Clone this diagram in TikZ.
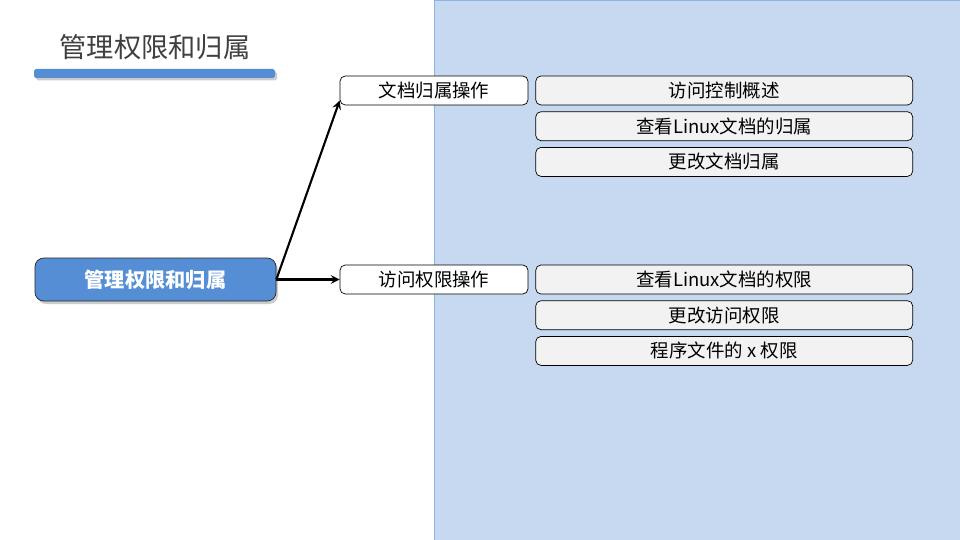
\documentclass[tikz,border=0pt]{standalone}
\usepackage{fontspec}
\setmainfont{Noto Sans CJK SC}
\usepackage{tikz}
\usetikzlibrary{positioning,shadows}

\definecolor{panelblue}{RGB}{198,217,240}
\definecolor{paneledge}{RGB}{142,180,227}
\definecolor{mainblue}{RGB}{85,142,213}
\definecolor{itemgray}{RGB}{242,242,242}
\definecolor{titlegray}{RGB}{64,64,64}

\tikzset{
    opbox/.style={draw=black, fill=white, rounded corners=3pt, minimum width=3.76cm, minimum height=0.58cm, inner sep=0pt, font=\fontsize{10.5}{12}\selectfont},
    itembox/.style={draw=black, fill=itemgray, rounded corners=3pt, minimum width=7.54cm, minimum height=0.58cm, inner sep=0pt, font=\fontsize{10.5}{12}\selectfont},
    link/.style={line width=1.2pt, -stealth}
}

\begin{document}
\begin{tikzpicture}

    % Fondo
    \useasboundingbox (0,0) rectangle (19.2,-10.8);
    \fill[white] (0,0) rectangle (19.2,-10.8);
    \draw[paneledge, fill=panelblue] (8.68,0) rectangle (19.2,-10.8);

    % Titulo
    \node[text=titlegray, font=\fontsize{15.5}{18}\selectfont] (title) at (3.1,-0.94) {管理权限和归属};
    \fill[mainblue, rounded corners=1pt, drop shadow={opacity=0.4, shadow xshift=0.04cm, shadow yshift=-0.05cm}] (0.68,-1.38) rectangle (5.5,-1.56);

    % Nodo principal
    \node[draw=black!85, fill=mainblue, rounded corners=5pt, minimum width=4.82cm, minimum height=0.86cm, text=white, font=\fontsize{11.5}{14}\selectfont\bfseries, drop shadow={opacity=0.4, shadow xshift=0.04cm, shadow yshift=-0.06cm}] (main) at (3.11,-5.59) {管理权限和归属};

    % Operaciones
    \node[opbox] (docops) at (8.68,-1.81) {文档归属操作};
    \node[opbox] (permops) at (8.68,-5.59) {访问权限操作};

    % Temas
    \node[itembox, right=0.14cm of docops] (ctl) {访问控制概述};
    \node[itembox, below=0.12cm of ctl] (viewown) {查看Linux文档的归属};
    \node[itembox, below=0.12cm of viewown] (chown) {更改文档归属};

    \node[itembox, right=0.14cm of permops] (viewperm) {查看Linux文档的权限};
    \node[itembox, below=0.12cm of viewperm] (chmod) {更改访问权限};
    \node[itembox, below=0.12cm of chmod] (xperm) {程序文件的 x 权限};

    % Flechas
    \draw[link] (main.east) -- ([yshift=-0.2cm]docops.west);
    \draw[link] (main.east) -- (permops.west);

\end{tikzpicture}
\end{document}
